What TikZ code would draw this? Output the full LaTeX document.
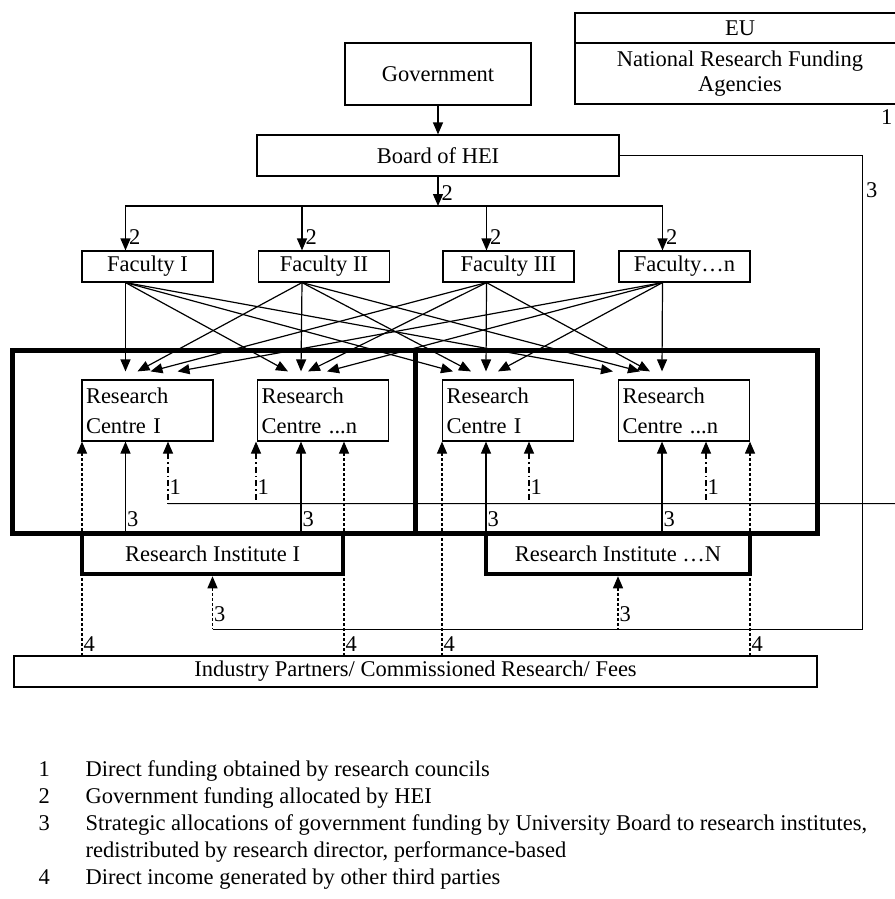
\documentclass[tikz,border=0pt]{standalone}
\usepackage{fontspec}
\setmainfont{Liberation Serif}
\usetikzlibrary{positioning,arrows.meta,calc}
\tikzset{>={Triangle[length=12pt,width=10pt]}}
\tikzset{
  fundbox/.style={draw, line width=1.2pt, inner sep=0pt, minimum height=31pt},
  centrebox/.style={draw, line width=1.2pt, inner xsep=4pt, inner ysep=0pt, text width=123pt,
    minimum height=61pt, align=left, font=\fontsize{22.5pt}{30pt}\selectfont},
  instbox/.style={draw, line width=4.5pt, inner sep=0pt, minimum height=41pt},
  groupbox/.style={draw, line width=5pt, inner sep=0pt, minimum height=183pt},
  lab/.style={anchor=west, inner sep=1pt},
  fourline/.style={dash pattern=on 3pt off 2pt},
  oneline/.style={dash pattern=on 6pt off 3pt on 1.5pt off 3pt}
}

\begin{document}
\begin{tikzpicture}[x=1pt, y=-1pt, line width=1.2pt, font=\fontsize{22.5pt}{27pt}\selectfont]
        \useasboundingbox (0,0) rectangle (894,899);

        % funding sources
        \node[fundbox, minimum width=186pt, minimum height=62pt] (gov) at (438,74) {Government};
        \node[fundbox, minimum width=330pt, minimum height=30pt] (eu) at (740,28) {EU};
        \node[fundbox, minimum width=330pt, minimum height=61pt, align=center,
              font=\fontsize{22.5pt}{25pt}\selectfont] (nrfa) at (740,73.5) {National Research Funding\\Agencies};
        \node[fundbox, minimum width=362pt, minimum height=41pt] (board) at (438,155.5) {Board of HEI};

        \node[fundbox, minimum width=131pt] (fac1) at (147.5,266.5) {Faculty I};
        \node[fundbox, minimum width=131pt] (fac2) at (324,266.5) {Faculty II};
        \node[fundbox, minimum width=131pt] (fac3) at (508.5,266.5) {Faculty III};
        \node[fundbox, minimum width=131pt] (facn) at (684.5,266.5) {Faculty…n};

        % institutes
        \node[groupbox, minimum width=403pt] (grp1) at (213.5,441.5) {};
        \node[groupbox, minimum width=402pt] (grp2) at (616,441.5) {};
        \node[centrebox] (rc1) at (147.5,410.5) {Research\\Centre I};
        \node[centrebox] (rc2) at (323,410.5) {Research\\Centre ...n};
        \node[centrebox] (rc3) at (508,410.5) {Research\\Centre I};
        \node[centrebox] (rc4) at (684,410.5) {Research\\Centre ...n};
        \node[instbox, minimum width=261pt] (ri1) at (212.5,553.5) {Research Institute I};
        \node[instbox, minimum width=264pt] (rin) at (618,553.5) {Research Institute …N};

        \node[fundbox, minimum width=803pt] (ind) at (415.5,671.5) {Industry Partners/ Commissioned Research/ Fees};

        % 2: government money through the board
        \coordinate (split) at (438,206);
        \draw[->] (gov) -- (board);
        \draw[->] (board) -- node[lab, pos=0.55, xshift=2pt] {2} (split);
        \foreach \f in {fac1,fac2,fac3,facn}
          \draw[->] (split) -| node[lab, pos=0.85, xshift=2pt] {2} ($(\f.north)+(-22,0)$);

        \foreach \f/\r/\dx in {fac1/rc1/-22, fac2/rc1/-10, fac3/rc1/3, facn/rc1/30,
                               fac1/rc2/-35, fac2/rc2/-22, fac3/rc2/-15, facn/rc2/4,
                               fac1/rc3/-55, fac2/rc3/-37, fac3/rc3/-22, facn/rc3/-10,
                               fac1/rc4/-71, fac2/rc4/-44, fac3/rc4/-34, facn/rc4/-22}
          \draw[->] ($(\f.south)+(-22,0)$) -- ($(\r.north)+(\dx,-8)$);

        % 3: strategic allocations
        \foreach \r in {rc1,rc2,rc3,rc4}
          \draw[<-] ($(\r.south)+(-22,0)$) -- node[lab, pos=0.84] {3} ++(0,92);
        \draw[<-, fourline] (ri1.south) -- node[lab, pos=0.72] {3} ++(0,53) coordinate (b3);
        \draw[<-, fourline] (rin.south) -- node[lab, pos=0.72] {3} ++(0,53);
        \draw (b3) -| node[lab, pos=0.963, xshift=2pt] {3} ($(board.east)+(243,0)$) -- (board.east);

        % 1: research councils
        \foreach \r/\dx in {rc1/20.5, rc2/-67, rc3/21, rc4/22}
          \draw[<-, oneline] ($(\r.south)+(\dx,0)$) -- node[lab, pos=0.74] {1} ++(0,62);
        \draw ($(rc1.south)+(20.5,62)$) -- ++(737,0) -- (nrfa.south east);
        \node[anchor=east, inner sep=0pt] (one) at (893,117) {1};

        % 4: third parties
        \foreach \r/\dx in {rc1/-65.5, rc2/21, rc3/-66, rc4/66}
          \draw[<-, fourline] ($(\r.south)+(\dx,0)$) -- node[lab, pos=0.94] {4} ++(0,215);

        % key
        \node[anchor=north west, inner sep=0pt] (key) at (38,757) {%
          \begin{tabular}{@{}p{47pt}@{}l@{}}
          1 & Direct funding obtained by research councils\\
          2 & Government funding allocated by HEI\\
          3 & Strategic allocations of government funding by University Board to research institutes,\\
            & redistributed by research director, performance-based\\
          4 & Direct income generated by other third parties
          \end{tabular}};
      \end{tikzpicture}
\end{document}
